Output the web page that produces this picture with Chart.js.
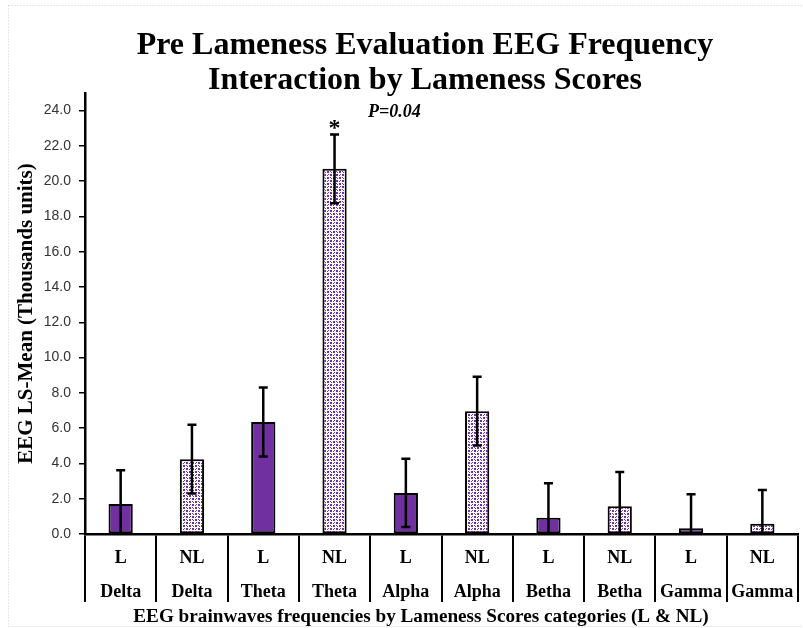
<!DOCTYPE html>
<html>
<head>
<meta charset="utf-8">
<script src="https://cdn.jsdelivr.net/npm/chart.js@4.4.1/dist/chart.umd.min.js"></script>
<style>
  html, body { margin: 0; padding: 0; background: #fff; }
  canvas { display: block; }
</style>
</head>
<body>
<canvas id="eeg" width="803" height="628"></canvas>
<script>
// Lameness score group and brainwave band for each bar
const groups = ['L', 'NL', 'L', 'NL', 'L', 'NL', 'L', 'NL', 'L', 'NL'];
const bands = ['Delta', 'Delta', 'Theta', 'Theta', 'Alpha', 'Alpha', 'Betha', 'Betha', 'Gamma', 'Gamma'];

// LS-means (thousands of units) and their standard errors
const lsMeans = [1.70, 4.24, 6.35, 20.70, 2.33, 6.96, 0.92, 1.58, 0.32, 0.58];
const stdErrors = [1.92, 1.95, 1.95, 1.95, 1.93, 1.95, 1.95, 1.93, 1.93, 1.92];
const significant = [false, false, false, true, false, false, false, false, false, false];

// Value axis
const yMin = 0;
const yMax = 25;
const yStep = 2;

const titleLines = ['Pre Lameness Evaluation EEG Frequency', 'Interaction by Lameness Scores'];
const pValueText = 'P=0.04';
const xTitle = 'EEG brainwaves frequencies by Lameness Scores categories (L & NL)';
const yTitle = 'EEG LS-Mean (Thousands units)';

const PURPLE = '#7030A0';
const SERIF = '"Liberation Serif", "Times New Roman", serif';

// Dotted fill used for the NL bars
function dottedPattern() {
  const tile = document.createElement('canvas');
  tile.width = 6; tile.height = 6;
  const t = tile.getContext('2d');
  t.fillStyle = '#ffffff';
  t.fillRect(0, 0, 6, 6);
  t.fillStyle = PURPLE;
  [[0, 0, 2, 2], [3, 3, 2, 2], [4, 0, 1, 1], [1, 4, 1, 1], [3, 1, 1, 1], [0, 3, 1, 1]]
    .forEach(([x, y, w, h]) => t.fillRect(x, y, w, h));
  return document.getElementById('eeg').getContext('2d').createPattern(tile, 'repeat');
}
const nlFill = dottedPattern();

const ctx = document.getElementById('eeg').getContext('2d');

// Frame, titles and annotations
const decorations = {
  id: 'decorations',
  beforeDraw(chart) {
    const c = chart.ctx;
    c.save();
    c.fillStyle = '#fff';
    c.fillRect(0, 0, chart.width, chart.height);
    c.strokeStyle = '#d0d0d0';
    c.lineWidth = 1;
    c.setLineDash([1, 2]);
    c.strokeRect(8.5, 5.5, 800, 621);
    c.restore();
  },
  afterDraw(chart) {
    const c = chart.ctx;
    const y = chart.scales.y;
    const meta = chart.getDatasetMeta(0);
    c.save();
    c.fillStyle = '#000';
    c.textAlign = 'center';
    c.textBaseline = 'alphabetic';
    c.font = 'bold 32px ' + SERIF;
    c.fillText(titleLines[0], 425, 54);
    c.fillText(titleLines[1], 425, 89);

    c.font = 'italic bold 18px ' + SERIF;
    c.textAlign = 'left';
    c.fillText(pValueText, 368, 117);

    c.textAlign = 'center';
    c.font = 'bold 24px ' + SERIF;
    meta.data.forEach((bar, i) => {
      if (!significant[i]) return;
      const top = y.getPixelForValue(lsMeans[i] + stdErrors[i]);
      c.fillText('*', bar.x, top + 1);
    });

    c.font = 'bold 19.2px ' + SERIF;
    c.fillText(xTitle, 421, 622);
    c.restore();
  }
};

// Standard-error whiskers centred on each bar
const errorBars = {
  id: 'errorBars',
  afterDatasetsDraw(chart) {
    const c = chart.ctx;
    const y = chart.scales.y;
    const meta = chart.getDatasetMeta(0);
    c.save();
    c.strokeStyle = '#000';
    c.lineWidth = 2.5;
    meta.data.forEach((bar, i) => {
      const hi = lsMeans[i] + stdErrors[i];
      const lo = lsMeans[i] - stdErrors[i];
      const yHi = y.getPixelForValue(hi);
      const yLo = y.getPixelForValue(Math.max(lo, yMin));
      c.beginPath();
      c.moveTo(bar.x, yHi);
      c.lineTo(bar.x, yLo);
      c.moveTo(bar.x - 4.5, yHi);
      c.lineTo(bar.x + 4.5, yHi);
      if (lo > yMin) {
        c.moveTo(bar.x - 4.5, yLo);
        c.lineTo(bar.x + 4.5, yLo);
      }
      c.stroke();
    });
    c.restore();
  }
};

new Chart(ctx, {
  type: 'bar',
  data: {
    labels: groups.map((g, i) => [g, bands[i]]),
    datasets: [{
      data: lsMeans,
      backgroundColor: groups.map(g => g === 'L' ? PURPLE : nlFill),
      borderColor: '#000',
      borderWidth: 2,
      borderSkipped: false,
      categoryPercentage: 1,
      barPercentage: 0.34
    }]
  },
  options: {
    responsive: false,
    animation: false,
    events: [],
    layout: { padding: { left: 8, top: 93, right: 5, bottom: 0 } },
    plugins: { legend: { display: false }, tooltip: { enabled: false }, title: { display: false } },
    scales: {
      x: {
        offset: true,
        grid: {
          offset: true,
          drawOnChartArea: false,
          drawTicks: true,
          tickLength: 68,
          color: '#000',
          lineWidth: 2
        },
        border: { display: true, color: '#000', width: 2.5 },
        ticks: {
          autoSkip: false,
          maxRotation: 0,
          minRotation: 0,
          padding: -61,
          color: '#000',
          font: { family: SERIF, size: 18, weight: 'bold', lineHeight: 34 / 18 }
        },
        afterFit(scale) { scale.height = 94; }
      },
      y: {
        min: yMin,
        max: yMax,
        grid: {
          drawOnChartArea: false,
          drawTicks: true,
          tickLength: 6,
          color: '#000',
          lineWidth: 1.5
        },
        border: { display: true, color: '#000', width: 2.5 },
        ticks: {
          stepSize: yStep,
          includeBounds: false,
          padding: 8,
          color: '#333333',
          font: { family: '"Liberation Sans", Arial, sans-serif', size: 14 },
          callback: v => Number(v).toFixed(1)
        },
        title: {
          display: true,
          text: yTitle,
          color: '#000',
          padding: { top: 6, bottom: 0 },
          font: { family: SERIF, size: 21, weight: 'bold', lineHeight: 1.2 }
        },
        afterFit(scale) { scale.width = 77; }
      }
    }
  },
  plugins: [decorations, errorBars]
});
</script>
</body>
</html>
